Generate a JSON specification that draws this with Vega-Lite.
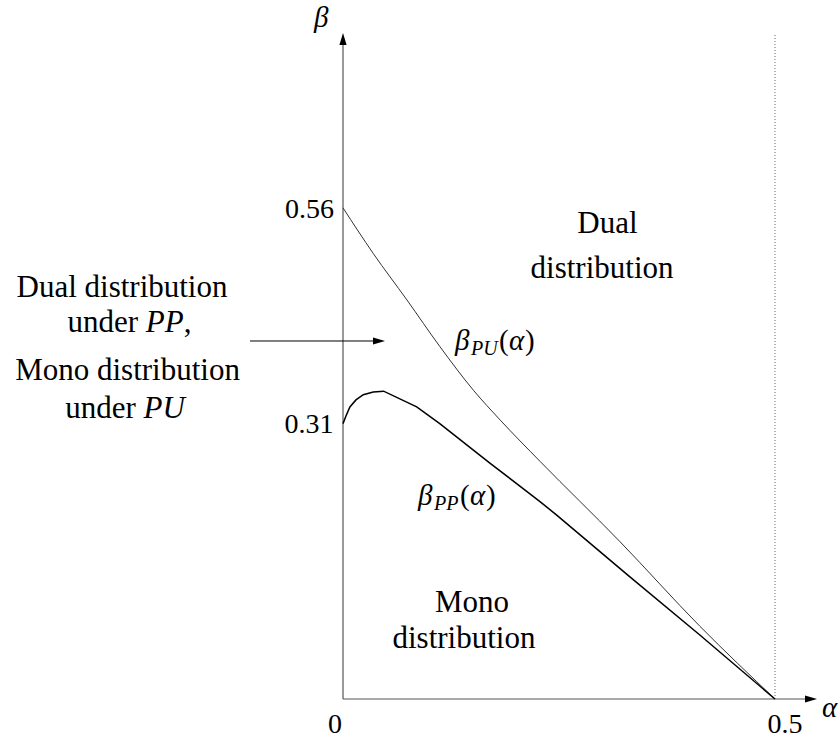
{
  "$schema": "https://vega.github.io/schema/vega-lite/v6.json",
  "width": 486,
  "height": 699,
  "autosize": {"type": "none"},
  "padding": {"left": 343, "top": 0, "right": 11, "bottom": 41},
  "background": "white",
  "config": {"view": {"stroke": null}},
  "datasets": {
    "curves": [
      {"series": "PU", "a": 0.0, "b": 0.560},
      {"series": "PU", "a": 0.035, "b": 0.508},
      {"series": "PU", "a": 0.074, "b": 0.455},
      {"series": "PU", "a": 0.112, "b": 0.402},
      {"series": "PU", "a": 0.151, "b": 0.352},
      {"series": "PU", "a": 0.182, "b": 0.318},
      {"series": "PU", "a": 0.228, "b": 0.271},
      {"series": "PU", "a": 0.32, "b": 0.180},
      {"series": "PU", "a": 0.413, "b": 0.083},
      {"series": "PU", "a": 0.5, "b": 0.0},
      {"series": "PP", "a": 0.0, "b": 0.314},
      {"series": "PP", "a": 0.004, "b": 0.324},
      {"series": "PP", "a": 0.008, "b": 0.333},
      {"series": "PP", "a": 0.015, "b": 0.341},
      {"series": "PP", "a": 0.0235, "b": 0.347},
      {"series": "PP", "a": 0.035, "b": 0.350},
      {"series": "PP", "a": 0.047, "b": 0.351},
      {"series": "PP", "a": 0.0853, "b": 0.333},
      {"series": "PP", "a": 0.112, "b": 0.314},
      {"series": "PP", "a": 0.170, "b": 0.269},
      {"series": "PP", "a": 0.228, "b": 0.225},
      {"series": "PP", "a": 0.247, "b": 0.210},
      {"series": "PP", "a": 0.33, "b": 0.141},
      {"series": "PP", "a": 0.413, "b": 0.073},
      {"series": "PP", "a": 0.5, "b": 0.0}
    ],
    "rules": [
      {"kind": "axis", "a1": 0, "b1": 0, "a2": 0.5417, "b2": 0},
      {"kind": "axis", "a1": 0, "b1": 0, "a2": 0, "b2": 0.7526},
      {"kind": "arrow", "a1": -0.1076, "b1": 0.4082, "a2": 0.0417, "b2": 0.4082},
      {"kind": "dotted", "a1": 0.5, "b1": 0, "a2": 0.5, "b2": 0.7594}
    ],
    "heads": [
      {"dir": "right", "a": 0.5417, "b": 0},
      {"dir": "right", "a": 0.0417, "b": 0.4082},
      {"dir": "up", "a": 0, "b": 0.7526}
    ],
    "texts": [
      {"style": "num_c", "t": "0.56", "a": -0.0388, "b": 0.5485},
      {"style": "num_c", "t": "0.31", "a": -0.0394, "b": 0.3033},
      {"style": "num_c", "t": "0", "a": -0.0093, "b": -0.0388},
      {"style": "num_c", "t": "0.5", "a": 0.5116, "b": -0.0388},
      {"style": "reg_c", "t": "Dual", "a": 0.3061, "b": 0.5314},
      {"style": "reg_c", "t": "distribution", "a": 0.2998, "b": 0.4800},
      {"style": "reg_c", "t": "Mono", "a": 0.1493, "b": 0.0992},
      {"style": "reg_c", "t": "distribution", "a": 0.1400, "b": 0.0582},
      {"style": "reg_c", "t": "Dual distribution", "a": -0.2558, "b": 0.4584},
      {"style": "reg_c", "t": "Mono distribution", "a": -0.2494, "b": 0.3637},
      {"style": "reg_l", "t": "under", "a": -0.3189, "b": 0.4185},
      {"style": "reg_l", "t": ",", "a": -0.1844, "b": 0.4185},
      {"style": "reg_l", "t": "under", "a": -0.3215, "b": 0.3204},
      {"style": "ital_l", "t": "PP", "a": -0.2282, "b": 0.4185},
      {"style": "ital_l", "t": "PU", "a": -0.2309, "b": 0.3204},
      {"style": "mreg_l", "t": "(", "a": 0.1806, "b": 0.3979},
      {"style": "mreg_l", "t": ")", "a": 0.2106, "b": 0.3979},
      {"style": "mreg_l", "t": "(", "a": 0.1354, "b": 0.2212},
      {"style": "mreg_l", "t": ")", "a": 0.1655, "b": 0.2212},
      {"style": "mital_l", "t": "β", "a": 0.1296, "b": 0.3979},
      {"style": "mital_l", "t": "α", "a": 0.1921, "b": 0.3979},
      {"style": "mital_l", "t": "β", "a": 0.0868, "b": 0.2212},
      {"style": "mital_l", "t": "α", "a": 0.1470, "b": 0.2212},
      {"style": "mital_l", "t": "β", "a": -0.0336, "b": 0.7662},
      {"style": "mital_l", "t": "α", "a": 0.5544, "b": -0.0205},
      {"style": "sub_l", "t": "PU", "a": 0.1481, "b": 0.3922},
      {"style": "sub_l", "t": "PP", "a": 0.1053, "b": 0.2155}
    ]
  },
  "layer": [
    {
      "data": {"name": "rules"},
      "transform": [{"filter": "datum.kind === 'axis'"}],
      "mark": {"type": "rule", "color": "#555555", "strokeWidth": 1.2},
      "encoding": {
        "x": {"field": "a1", "type": "quantitative", "scale": {"domain": [0, 0.5625], "nice": false, "zero": false}, "axis": null},
        "y": {"field": "b1", "type": "quantitative", "scale": {"domain": [0, 0.797], "nice": false, "zero": false}, "axis": null},
        "x2": {"field": "a2"},
        "y2": {"field": "b2"}
      }
    },
    {
      "data": {"name": "rules"},
      "transform": [{"filter": "datum.kind === 'arrow'"}],
      "mark": {"type": "rule", "color": "black", "strokeWidth": 1},
      "encoding": {
        "x": {"field": "a1", "type": "quantitative"},
        "y": {"field": "b1", "type": "quantitative"},
        "x2": {"field": "a2"},
        "y2": {"field": "b2"}
      }
    },
    {
      "data": {"name": "rules"},
      "transform": [{"filter": "datum.kind === 'dotted'"}],
      "mark": {"type": "rule", "color": "#666666", "strokeWidth": 1, "strokeDash": [1, 2]},
      "encoding": {
        "x": {"field": "a1", "type": "quantitative"},
        "y": {"field": "b1", "type": "quantitative"},
        "x2": {"field": "a2"},
        "y2": {"field": "b2"}
      }
    },
    {
      "data": {"name": "heads"},
      "transform": [{"filter": "datum.dir === 'right'"}],
      "mark": {"type": "point", "filled": true, "color": "black", "opacity": 1, "size": 144, "shape": "M1,0L-1,-0.6L-1,0.6Z"},
      "encoding": {
        "x": {"field": "a", "type": "quantitative"},
        "y": {"field": "b", "type": "quantitative"}
      }
    },
    {
      "data": {"name": "heads"},
      "transform": [{"filter": "datum.dir === 'up'"}],
      "mark": {"type": "point", "filled": true, "color": "black", "opacity": 1, "size": 144, "shape": "M0,-1L-0.6,1L0.6,1Z"},
      "encoding": {
        "x": {"field": "a", "type": "quantitative"},
        "y": {"field": "b", "type": "quantitative"}
      }
    },
    {
      "data": {"name": "curves"},
      "transform": [{"filter": "datum.series === 'PU'"}],
      "mark": {"type": "line", "color": "#333333", "strokeWidth": 1, "interpolate": "monotone"},
      "encoding": {
        "x": {"field": "a", "type": "quantitative"},
        "y": {"field": "b", "type": "quantitative"},
        "order": {"field": "a"}
      }
    },
    {
      "data": {"name": "curves"},
      "transform": [{"filter": "datum.series === 'PP'"}],
      "mark": {"type": "line", "color": "black", "strokeWidth": 1.5},
      "encoding": {
        "x": {"field": "a", "type": "quantitative"},
        "y": {"field": "b", "type": "quantitative"},
        "order": {"field": "a"}
      }
    },
    {
      "data": {"name": "texts"},
      "transform": [{"filter": "datum.style === 'num_c'"}],
      "mark": {"type": "text", "font": "Liberation Serif", "fontSize": 28, "align": "center", "baseline": "alphabetic", "color": "black"},
      "encoding": {
        "x": {"field": "a", "type": "quantitative"},
        "y": {"field": "b", "type": "quantitative"},
        "text": {"field": "t"}
      }
    },
    {
      "data": {"name": "texts"},
      "transform": [{"filter": "datum.style === 'reg_c'"}],
      "mark": {"type": "text", "font": "Liberation Serif", "fontSize": 31, "align": "center", "baseline": "alphabetic", "color": "black"},
      "encoding": {
        "x": {"field": "a", "type": "quantitative"},
        "y": {"field": "b", "type": "quantitative"},
        "text": {"field": "t"}
      }
    },
    {
      "data": {"name": "texts"},
      "transform": [{"filter": "datum.style === 'reg_l'"}],
      "mark": {"type": "text", "font": "Liberation Serif", "fontSize": 31, "align": "left", "baseline": "alphabetic", "color": "black"},
      "encoding": {
        "x": {"field": "a", "type": "quantitative"},
        "y": {"field": "b", "type": "quantitative"},
        "text": {"field": "t"}
      }
    },
    {
      "data": {"name": "texts"},
      "transform": [{"filter": "datum.style === 'ital_l'"}],
      "mark": {"type": "text", "font": "Liberation Serif", "fontStyle": "italic", "fontSize": 31, "align": "left", "baseline": "alphabetic", "color": "black"},
      "encoding": {
        "x": {"field": "a", "type": "quantitative"},
        "y": {"field": "b", "type": "quantitative"},
        "text": {"field": "t"}
      }
    },
    {
      "data": {"name": "texts"},
      "transform": [{"filter": "datum.style === 'mreg_l'"}],
      "mark": {"type": "text", "font": "Liberation Serif", "fontSize": 29, "align": "left", "baseline": "alphabetic", "color": "black"},
      "encoding": {
        "x": {"field": "a", "type": "quantitative"},
        "y": {"field": "b", "type": "quantitative"},
        "text": {"field": "t"}
      }
    },
    {
      "data": {"name": "texts"},
      "transform": [{"filter": "datum.style === 'mital_l'"}],
      "mark": {"type": "text", "font": "Liberation Serif", "fontStyle": "italic", "fontSize": 29, "align": "left", "baseline": "alphabetic", "color": "black"},
      "encoding": {
        "x": {"field": "a", "type": "quantitative"},
        "y": {"field": "b", "type": "quantitative"},
        "text": {"field": "t"}
      }
    },
    {
      "data": {"name": "texts"},
      "transform": [{"filter": "datum.style === 'sub_l'"}],
      "mark": {"type": "text", "font": "Liberation Serif", "fontStyle": "italic", "fontSize": 20, "align": "left", "baseline": "alphabetic", "color": "black"},
      "encoding": {
        "x": {"field": "a", "type": "quantitative"},
        "y": {"field": "b", "type": "quantitative"},
        "text": {"field": "t"}
      }
    }
  ]
}
